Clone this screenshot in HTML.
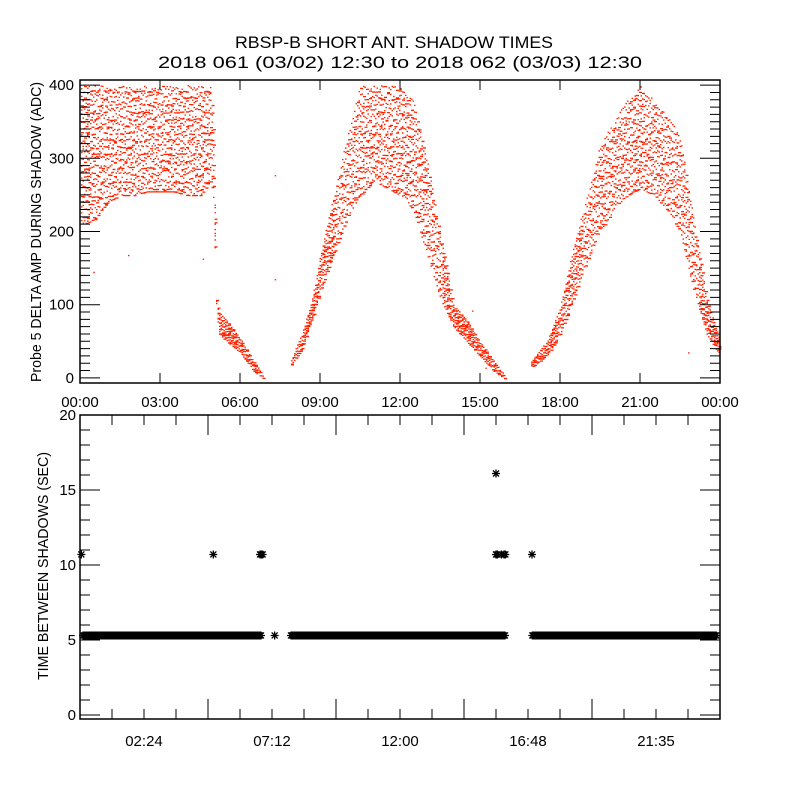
<!DOCTYPE html>
<html><head><meta charset="utf-8"><style>
html,body{margin:0;padding:0;background:#fff;}
svg{display:block;font-family:"Liberation Sans",sans-serif;}
</style></head><body>
<svg id="chart" width="800" height="800" viewBox="0 0 800 800" xmlns="http://www.w3.org/2000/svg">
<rect width="800" height="800" fill="#fff"/>
<text x="394" y="48" font-size="17" text-anchor="middle" textLength="318" lengthAdjust="spacingAndGlyphs">RBSP-B SHORT ANT. SHADOW TIMES</text>
<text x="400" y="68" font-size="17" text-anchor="middle" textLength="484" lengthAdjust="spacingAndGlyphs">2018 061 (03/02) 12:30 to 2018 062 (03/03) 12:30</text>
<text transform="translate(41,232) rotate(-90)" font-size="15" text-anchor="middle" textLength="300" lengthAdjust="spacingAndGlyphs">Probe 5 DELTA AMP DURING SHADOW (ADC)</text>
<text transform="translate(48,566) rotate(-90)" font-size="15" text-anchor="middle" textLength="228" lengthAdjust="spacingAndGlyphs">TIME BETWEEN SHADOWS (SEC)</text>
<g id="topPanel"></g>
<g id="botPanel"></g>
</svg>
<script>
// ---- Top panel data: envelope of amplitude samples (hours, low, high in ADC)
const ampHours = [0,0.5,1,1.5,2,2.5,3,3.5,4,4.5,4.9,5.0,5.1,5.2,5.5,6.0,6.5,6.85,
  7.9,8.3,8.7,9.0,9.5,10,10.5,11,11.5,12,12.5,13,13.5,14,14.5,15,15.5,15.9,
  16.9,17.5,18,18.5,19,19.5,20,20.5,21,21.5,22,22.5,23,23.5,24];
const ampLow  = [210,215,240,250,250,255,255,255,250,250,270,240,100,60,50,35,10,0,
  18,40,80,120,170,220,250,270,260,250,230,170,110,70,50,30,10,0,
  15,30,60,110,160,200,230,250,260,250,230,200,120,60,30];
const ampHigh = [400,400,400,400,400,400,400,400,400,400,400,340,110,90,80,55,25,5,
  25,60,110,170,250,330,400,400,400,400,380,300,200,100,80,50,25,5,
  25,50,100,180,250,320,350,380,400,380,360,330,220,110,50];
const ampGaps = [[6.85,7.9],[15.9,16.9]];
const strayHours = [0.5,1.8,4.6,7.3,7.3,14.7,15.2,21.8,22.8];
const strayVals  = [145,168,163,277,135,92,14,240,35];

// ---- Bottom panel data
const intervalBands = [[0,6.9],[7.8,16.05],[16.85,24]];
const bandValue = 5.3;
const outlierHours = [0.05,5.0,6.75,6.8,6.85,7.3,15.6,15.65,15.8,15.9,15.95,16.95,15.6];
const outlierVals  = [10.7,10.7,10.7,10.7,10.7,5.3,10.7,10.7,10.7,10.7,10.7,10.7,16.1];

const topTicks = ["00:00","03:00","06:00","09:00","12:00","15:00","18:00","21:00","00:00"];
const topYTicks = [0,100,200,300,400];
const botTicks = ["02:24","07:12","12:00","16:48","21:35"];
const botYTicks = [0,5,10,15,20];

const NS="http://www.w3.org/2000/svg";
function mk(tag,attrs,parent){const e=document.createElementNS(NS,tag);for(const k in attrs)e.setAttribute(k,attrs[k]);parent.appendChild(e);return e;}
const X0=80,X1=720;
const x=h=>X0+(h/24)*(X1-X0);
const T={y0:80,y1:383,min:-7,max:407};
const yT=v=>T.y1-(v-T.min)/(T.max-T.min)*(T.y1-T.y0);
const B={y0:415,y1:719,min:-0.27,max:20};
const yB=v=>B.y1-(v-B.min)/(B.max-B.min)*(B.y1-B.y0);

const topG=document.getElementById('topPanel'), botG=document.getElementById('botPanel');

// deterministic jitter for dot placement (rendering only)
function hash(a,b){let s=Math.sin(a*12.9898+b*78.233)*43758.5453;return s-Math.floor(s);}

let path="";
function interp(h,arr){for(let i=0;i<ampHours.length-1;i++){if(h>=ampHours[i]&&h<=ampHours[i+1]){const t=(h-ampHours[i])/((ampHours[i+1]-ampHours[i])||1);return arr[i]+t*(arr[i+1]-arr[i]);}}return null;}
for(let px=X0+1;px<=X1-1;px+=1.5){
  const h=(px-X0)/(X1-X0)*24;
  if(ampGaps.some(g=>h>g[0]&&h<g[1]))continue;
  const lo=interp(h,ampLow),hi=interp(h,ampHigh);
  if(lo===null)continue;
  const ya=Math.max(T.y0+1,yT(hi)),yb=yT(lo);
  const span=yb-ya;
  const step=span>60?7:(span>25?4:2.5);
  let j=0;
  for(let py=ya;py<=yb;py+=step){
    const r=hash(px,j++);
    const yy=Math.min(yb,py+r*step);
    const w=r>0.7?3:1.5;
    path+=`M${px.toFixed(1)} ${yy.toFixed(1)}h${w}v1.3h-${w}z`;
  }
}
for(let i=0;i<strayHours.length;i++)path+=`M${x(strayHours[i]).toFixed(1)} ${yT(strayVals[i]).toFixed(1)}h1.5v1.3h-1.5z`;
const sc=mk('path',{d:path,fill:'#ff2200'},topG);



const tb=mk('rect',{x:X0,y:T.y0,width:X1-X0,height:T.y1-T.y0,fill:'none',stroke:'#000','stroke-width':1.5},topG);


let tk="";
for(let i=0;i<topTicks.length;i++){const px=x(i*3);tk+=`M${px} ${T.y1}v-10M${px} ${T.y0}v10`;}
for(let v=0;v<=400;v+=10){const py=yT(v);const L=v%100===0?20:10;tk+=`M${X0} ${py}h${L}M${X1} ${py}h-${L}`;}
mk('path',{d:tk,stroke:'#000','stroke-width':1,fill:'none'},topG);
topTicks.forEach((s,i)=>{const t=mk('text',{x:x(i*3),y:407,'font-size':15,'text-anchor':'middle'},topG);t.textContent=s;

});
topYTicks.forEach(v=>{const t=mk('text',{x:74,y:yT(v)+5,'font-size':15,'text-anchor':'end'},topG);t.textContent=v;

});

function star(cx,cy){const r=4,d=3;return `M${cx-r} ${cy}h${2*r}M${cx} ${cy-r}v${2*r}M${cx-d} ${cy-d}l${2*d} ${2*d}M${cx-d} ${cy+d}l${2*d} ${-2*d}`;}
let sp="";
intervalBands.forEach(b=>{for(let px=x(b[0])+3;px<=x(b[1])-3;px+=1)sp+=star(px,yB(bandValue));});
for(let i=0;i<outlierHours.length;i++)sp+=star(x(outlierHours[i]),yB(outlierVals[i]));
const st=mk('path',{d:sp,stroke:'#000','stroke-width':1.3,fill:'none'},botG);



const bb=mk('rect',{x:X0,y:B.y0,width:X1-X0,height:B.y1-B.y0,fill:'none',stroke:'#000','stroke-width':1.5},botG);


let bk="";
for(let h=0;h<=24.01;h+=1.2){const px=x(h);const major=Math.abs((h/4.8)-Math.round(h/4.8))<1e-6&&h>0&&h<24;const L=major?20:10;bk+=`M${px} ${B.y1}v-${L}M${px} ${B.y0}v${L}`;}
for(let v=0;v<=20;v++){const py=yB(v);const L=v%5===0?20:10;bk+=`M${X0} ${py}h${L}M${X1} ${py}h-${L}`;}
mk('path',{d:bk,stroke:'#000','stroke-width':1,fill:'none'},botG);
botTicks.forEach((s,i)=>{const t=mk('text',{x:x((i+0.5)*4.8),y:746,'font-size':15,'text-anchor':'middle'},botG);t.textContent=s;

});
botYTicks.forEach(v=>{const t=mk('text',{x:76,y:yB(v)+5,'font-size':15,'text-anchor':'end'},botG);t.textContent=v;

});
</script>
</body></html>
